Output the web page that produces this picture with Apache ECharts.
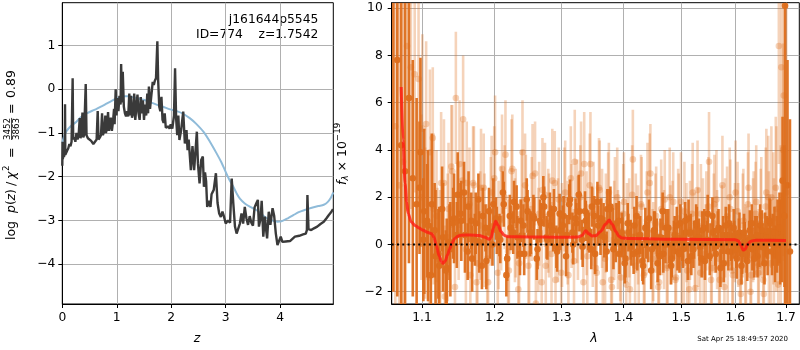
<!DOCTYPE html>
<html><head><meta charset="utf-8">
<script src="https://cdn.jsdelivr.net/npm/echarts@6/dist/echarts.min.js"></script>
<style>html,body{margin:0;padding:0;background:#fff}#c{width:800px;height:350px}</style>
</head><body><div id="c"></div>
<script>
// ---------- LEFT PANEL DATA: log p(z) ----------
const pzCurve = [[0.00,-1.75],[0.005,-1.20],[0.01,-1.60],[0.02,-1.40],[0.03,-1.55],[0.045,-1.45],[0.05,-0.34],[0.055,-1.50],[0.07,-1.52],[0.09,-1.40],[0.11,-1.35],[0.13,-1.25],[0.15,-1.30],[0.17,-1.20],[0.19,0.25],[0.20,-1.15],[0.22,-1.10],[0.24,-1.20],[0.26,-1.00],[0.28,-1.15],[0.30,-1.05],[0.32,-0.66],[0.335,-1.12],[0.35,-1.00],[0.37,-0.53],[0.385,-1.10],[0.40,-1.05],[0.43,0.12],[0.445,-1.05],[0.47,-1.12],[0.50,-1.15],[0.53,-1.18],[0.57,-1.25],[0.60,-1.28],[0.63,-1.15],[0.65,-0.50],[0.665,-1.15],[0.69,-1.10],[0.71,-1.05],[0.73,-0.55],[0.745,-1.05],[0.77,-0.95],[0.79,-0.60],[0.80,-1.00],[0.82,-0.90],[0.84,-0.52],[0.855,-0.95],[0.87,-0.85],[0.89,-0.65],[0.91,-0.95],[0.93,-0.75],[0.95,-0.45],[0.96,-0.80],[0.98,0.00],[0.995,-0.60],[1.01,-0.20],[1.03,-0.50],[1.05,-0.15],[1.07,-0.35],[1.08,0.58],[1.095,-0.30],[1.11,0.40],[1.12,0.43],[1.13,-0.40],[1.15,-0.55],[1.17,-0.62],[1.19,-0.50],[1.21,-0.62],[1.23,-0.10],[1.245,-0.60],[1.26,-0.15],[1.28,-0.65],[1.30,-0.55],[1.32,-0.10],[1.34,-0.70],[1.36,-0.40],[1.38,-0.12],[1.40,-0.55],[1.42,-0.70],[1.44,-0.18],[1.46,-0.55],[1.48,-0.25],[1.50,-0.70],[1.52,-0.35],[1.54,-0.60],[1.56,-0.10],[1.575,-0.55],[1.59,0.06],[1.61,-0.45],[1.63,-0.20],[1.66,0.17],[1.68,0.10],[1.70,0.20],[1.72,0.25],[1.745,1.10],[1.76,0.20],[1.78,-0.40],[1.80,-0.50],[1.82,-0.17],[1.84,-0.70],[1.86,-0.77],[1.88,-0.55],[1.90,-0.88],[1.93,-0.92],[1.95,-0.85],[1.97,-0.90],[1.99,-0.80],[2.02,-0.90],[2.05,-0.60],[2.07,0.48],[2.09,-0.68],[2.11,-1.05],[2.13,-0.60],[2.15,-1.16],[2.18,-0.95],[2.22,-0.51],[2.25,-1.24],[2.28,-0.93],[2.30,-1.39],[2.32,-1.15],[2.34,-1.15],[2.36,-1.85],[2.39,-1.30],[2.42,-1.85],[2.44,-1.50],[2.47,-0.97],[2.49,-1.70],[2.52,-2.15],[2.55,-1.62],[2.58,-1.54],[2.60,-2.23],[2.62,-1.90],[2.64,-2.10],[2.66,-2.69],[2.69,-2.55],[2.72,-2.69],[2.74,-2.40],[2.78,-2.30],[2.82,-1.92],[2.85,-2.60],[2.88,-2.84],[2.91,-2.92],[2.94,-2.80],[2.97,-2.92],[3.00,-3.07],[3.04,-3.00],[3.08,-3.05],[3.11,-2.04],[3.14,-2.62],[3.17,-3.14],[3.20,-3.30],[3.23,-3.28],[3.26,-3.07],[3.29,-2.84],[3.32,-3.07],[3.35,-2.69],[3.38,-2.95],[3.41,-3.10],[3.44,-2.90],[3.47,-3.05],[3.50,-3.12],[3.53,-2.70],[3.56,-2.61],[3.59,-2.53],[3.61,-3.14],[3.64,-2.95],[3.66,-2.55],[3.69,-3.37],[3.72,-2.91],[3.74,-3.20],[3.76,-3.41],[3.79,-2.80],[3.82,-3.10],[3.86,-2.72],[3.89,-2.90],[3.92,-3.30],[3.95,-3.56],[3.98,-3.54],[4.01,-3.37],[4.04,-3.49],[4.10,-3.48],[4.18,-3.47],[4.27,-3.37],[4.35,-3.35],[4.42,-3.32],[4.47,-3.30],[4.49,-3.22],[4.50,-2.42],[4.52,-3.20],[4.57,-3.22],[4.62,-3.18],[4.68,-3.14],[4.74,-3.08],[4.80,-3.03],[4.85,-2.95],[4.89,-2.88],[4.93,-2.82],[4.97,-2.74]];
const pzSmooth = [[0,-1.22],[0.04,-1.05],[0.08,-0.95],[0.15,-0.85],[0.26,-0.74],[0.35,-0.63],[0.45,-0.55],[0.55,-0.49],[0.63,-0.45],[0.72,-0.39],[0.81,-0.33],[0.9,-0.27],[1.0,-0.21],[1.08,-0.18],[1.15,-0.16],[1.22,-0.16],[1.3,-0.18],[1.4,-0.21],[1.49,-0.24],[1.6,-0.29],[1.73,-0.35],[1.85,-0.40],[1.98,-0.46],[2.1,-0.50],[2.22,-0.56],[2.34,-0.66],[2.45,-0.78],[2.59,-0.97],[2.71,-1.20],[2.83,-1.46],[2.92,-1.67],[2.985,-1.85],[3.06,-2.05],[3.14,-2.23],[3.20,-2.38],[3.26,-2.50],[3.35,-2.61],[3.45,-2.69],[3.56,-2.76],[3.64,-2.84],[3.72,-2.92],[3.83,-2.99],[3.95,-3.03],[4.02,-3.02],[4.14,-2.95],[4.24,-2.88],[4.34,-2.81],[4.45,-2.76],[4.58,-2.71],[4.70,-2.67],[4.80,-2.64],[4.87,-2.58],[4.93,-2.48],[4.975,-2.36]];
const zTicks = [0,1,2,3,4];
const logpTicks = [-4,-3,-2,-1,0,1];

// ---------- RIGHT PANEL DATA: spectrum ----------
const darkLam = [1.063,1.068,1.073,1.078,1.083,1.088,1.093,1.098,1.103,1.108,
1.113,1.118,1.123,1.128,1.133,1.138,1.143,1.148,1.153,1.158,
1.163,1.168,1.173,1.178,1.183,1.188,1.193,1.198,1.203,1.208,
1.213,1.218,1.223,1.228,1.233,1.238,1.243,1.248,1.253,1.258,
1.263,1.268,1.273,1.278,1.283,1.288,1.293,1.298,1.303,1.308,
1.313,1.318,1.323,1.328,1.333,1.338,1.343,1.348,1.353,1.358,
1.363,1.368,1.373,1.378,1.383,1.388,1.393,1.398,1.403,1.408,
1.413,1.418,1.423,1.428,1.433,1.438,1.443,1.448,1.453,1.458,
1.463,1.468,1.473,1.478,1.483,1.488,1.493,1.498,1.503,1.508,
1.513,1.518,1.523,1.528,1.533,1.538,1.543,1.548,1.553,1.558,
1.563,1.568,1.573,1.578,1.583,1.588,1.593,1.598,1.603,1.608,
1.613,1.618,1.623,1.628,1.633,1.638,1.643,1.648,1.653,1.658,
1.663,1.668,1.673,1.678,1.683,1.688,1.693,1.698,1.703,1.708];
const darkFlux = [12.0,7.8,4.2,3.1,6.2,2.8,1.7,3.9,1.4,0.8,
1.7,-0.5,-0.9,0.3,-1.0,-0.2,1.1,2.1,1.0,0.4,
1.6,-0.6,0.9,0.1,1.2,-0.7,0.5,1.7,0.6,0.2,
1.7,-0.6,0.7,1.8,0.3,1.0,-0.4,1.4,0.5,1.1,
-0.2,0.9,1.6,0.2,0.8,1.5,-0.3,0.6,1.2,0.4,
1.9,0.0,0.9,1.4,-0.1,1.0,0.5,1.6,-0.4,0.8,
1.1,0.3,1.5,1.6,-0.2,0.9,-0.4,0.3,-0.6,0.5,
-0.1,0.8,-0.3,0.4,-0.9,0.2,1.1,-0.2,0.6,-0.8,
0.3,-0.4,0.7,0.0,-0.6,0.4,-0.3,0.9,-0.2,0.5,
1.1,-0.5,0.2,0.8,-0.1,0.6,-0.7,1.3,0.1,0.5,
-0.4,0.7,0.0,-0.8,0.4,0.9,-0.3,0.2,-0.6,0.5,
-0.4,0.1,-0.7,0.6,-0.2,0.3,-0.5,0.8,0.0,0.4,
-0.3,0.9,0.2,-0.4,0.5,0.1,2.7,10.1,2.5,-0.3];
const darkErr = [14,10,9,8,7,5,4.5,4,3.5,3.2,
3.0,2.8,2.5,2.3,2.1,2.0,1.9,1.8,1.7,1.6,
1.5,1.4,1.3,1.3,1.2,1.2,1.1,1.1,1.0,1.0,
0.95,0.95,0.95,0.9,0.9,0.9,0.9,0.9,0.9,0.9,
0.85,0.85,0.85,0.85,0.85,0.85,0.85,0.85,0.85,0.85,
0.85,0.85,0.85,0.85,0.85,0.85,0.85,0.85,0.85,0.85,
0.85,0.85,0.85,0.85,0.85,0.85,0.85,0.85,0.8,0.8,
0.8,0.8,0.8,0.8,0.8,0.8,0.8,0.8,0.8,0.8,
0.8,0.8,0.8,0.8,0.8,0.8,0.8,0.8,0.8,0.8,
0.8,0.8,0.8,0.8,0.8,0.8,0.8,0.8,0.8,0.8,
0.8,0.8,0.8,0.8,0.8,0.8,0.8,0.8,0.85,0.85,
0.85,0.85,0.85,0.85,0.9,0.9,0.9,0.9,0.9,0.95,
1.0,1.0,1.1,1.2,1.4,1.8,2.7,13,5.3,5.6];
const dark2Lam = [1.0968,1.1018,1.1068,1.1118,1.1168,1.1218,1.1268,1.1318,1.1368,1.1418,
1.1468,1.1518,1.1568,1.1618,1.1668,1.1718,1.1768,1.1818,1.1868,1.1918,
1.1968,1.2018,1.2068,1.2118,1.2168,1.2218,1.2268,1.2318,1.2368,1.2418,
1.2468,1.2518,1.2568,1.2618,1.2668,1.2718,1.2768,1.2818,1.2868,1.2918,
1.2968,1.3018,1.3068,1.3118,1.3168,1.3218,1.3268,1.3318,1.3368,1.3418,
1.3468,1.3518,1.3568,1.3618,1.3668,1.3718,1.3768,1.3818,1.3868,1.3918,
1.3968,1.4018,1.4068,1.4118,1.4168,1.4218,1.4268,1.4318,1.4368,1.4418,
1.4468,1.4518,1.4568,1.4618,1.4668,1.4718,1.4768,1.4818,1.4868,1.4918,
1.4968,1.5018,1.5068,1.5118,1.5168,1.5218,1.5268,1.5318,1.5368,1.5418,
1.5468,1.5518,1.5568,1.5618,1.5668,1.5718,1.5768,1.5818,1.5868,1.5918,
1.5968,1.6018,1.6068,1.6118,1.6168,1.6218,1.6268,1.6318,1.6368,1.6418,
1.6468,1.6518,1.6568,1.6618,1.6668,1.6718,1.6768,1.6818,1.6868,1.6918,
1.6968];
const dark2Flux = [2.4,0.2,1.0,-1.3,0.6,-0.4,1.5,-1.1,0.1,0.9,
0.4,1.3,2.2,-0.3,1.0,0.2,1.9,-0.9,0.7,1.4,
0.0,1.1,0.4,2.2,-1.3,1.2,0.5,1.6,-0.4,0.8,
1.9,0.4,1.2,-0.6,1.0,2.0,0.3,1.3,0.6,-0.1,
1.3,0.8,-0.5,1.7,0.5,1.1,2.1,0.2,1.4,0.6,
-0.2,1.2,1.8,0.4,0.9,-0.3,1.5,0.7,0.1,1.0,
0.5,-0.8,0.9,0.2,-0.4,1.2,0.3,-0.7,0.7,0.1,
-1.1,0.6,0.3,-0.5,1.4,0.0,0.7,-0.9,0.2,0.8,
-0.4,0.1,1.0,-0.7,0.5,-0.2,0.9,0.3,-0.6,0.7,
0.2,-0.5,1.2,-0.1,0.6,-1.0,0.4,0.8,-0.3,0.1,
0.7,-0.2,0.3,-0.9,0.5,-0.4,0.2,0.9,-0.6,0.4,
-0.1,0.6,-0.8,0.3,1.0,-0.3,0.5,0.0,0.7,0.3,
1.2];
const dark2Err = [2.8,2.6,2.4,2.2,2.0,1.9,1.8,1.7,1.6,1.5,
1.4,1.3,1.3,1.2,1.2,1.1,1.1,1.0,1.0,1.0,
0.9,0.9,0.9,0.9,0.9,0.9,0.9,0.9,0.9,0.9,
0.9,0.9,0.9,0.9,0.9,0.9,0.9,0.9,0.9,0.9,
0.85,0.85,0.85,0.85,0.85,0.85,0.85,0.85,0.85,0.85,
0.85,0.85,0.85,0.85,0.85,0.85,0.85,0.85,0.85,0.85,
0.85,0.85,0.85,0.85,0.85,0.85,0.85,0.85,0.85,0.85,
0.8,0.8,0.8,0.8,0.8,0.8,0.8,0.8,0.8,0.8,
0.8,0.8,0.8,0.8,0.8,0.8,0.8,0.8,0.8,0.8,
0.8,0.8,0.8,0.8,0.8,0.8,0.8,0.8,0.8,0.8,
0.8,0.8,0.8,0.8,0.8,0.8,0.8,0.8,0.8,0.8,
0.85,0.85,0.9,0.9,0.95,1.0,1.1,1.2,1.5,1.9,
3.0];
const lightLam = [1.0655,1.0705,1.0755,1.0805,1.0855,1.0905,1.0955,1.1005,1.1055,1.1105,
1.1155,1.1205,1.1255,1.1305,1.1355,1.1405,1.1455,1.1505,1.1555,1.1605,
1.1655,1.1705,1.1755,1.1805,1.1855,1.1905,1.1955,1.2005,1.2055,1.2105,
1.2155,1.2205,1.2255,1.2305,1.2355,1.2405,1.2455,1.2505,1.2555,1.2605,
1.2655,1.2705,1.2755,1.2805,1.2855,1.2905,1.2955,1.3005,1.3055,1.3105,
1.3155,1.3205,1.3255,1.3305,1.3355,1.3405,1.3455,1.3505,1.3555,1.3605,
1.3655,1.3705,1.3755,1.3805,1.3855,1.3905,1.3955,1.4005,1.4055,1.4105,
1.4155,1.4205,1.4255,1.4305,1.4355,1.4405,1.4455,1.4505,1.4555,1.4605,
1.4655,1.4705,1.4755,1.4805,1.4855,1.4905,1.4955,1.5005,1.5055,1.5105,
1.5155,1.5205,1.5255,1.5305,1.5355,1.5405,1.5455,1.5505,1.5555,1.5605,
1.5655,1.5705,1.5755,1.5805,1.5855,1.5905,1.5955,1.6005,1.6055,1.6105,
1.6155,1.6205,1.6255,1.6305,1.6355,1.6405,1.6455,1.6505,1.6555,1.6605,
1.6655,1.6705,1.6755,1.6805,1.6855,1.6905,1.6955,1.7005];
const lightFlux = [5.0,2.5,3.5,8.4,7.5,7.2,7.0,4.9,5.1,3.9,
1.5,-0.6,2.6,-2.2,1.5,3.1,6.2,3.4,5.3,2.6,
-1.3,2.5,-0.8,2.4,0.6,-1.6,2.2,3.9,0.4,3.2,
3.8,-1.1,3.2,0.9,-0.8,3.9,1.6,-0.4,2.9,-2.5,
1.3,2.3,-0.9,0.8,2.7,-1.5,1.9,0.4,2.2,-1.3,
1.2,3.5,0.7,3.0,3.4,-0.5,3.4,1.3,-1.2,2.3,
-1.6,0.9,2.2,-1.8,1.6,0.2,-1.4,1.8,0.5,-1.9,
3.6,0.9,-0.7,1.6,-1.2,2.2,3.0,-0.3,1.2,-1.6,
0.8,1.9,-0.9,0.4,1.8,-1.4,0.9,-0.5,1.4,-1.1,
0.6,2.2,-1.85,0.3,1.3,-0.7,1.0,3.5,-1.0,1.7,
0.2,-1.5,2.5,0.7,-0.8,1.5,-1.3,2.2,0.4,-2.1,
1.0,-0.6,2.4,-1.3,0.8,1.8,-0.9,1.2,-2.1,2.2,
0.3,2.0,-0.4,1.5,8.4,7.5,6.3,2.2];
const lightErr = [10,9,8,7,6,5,4.5,4,3.5,3.5,
3.2,3,3,3,2.8,2.8,2.8,2.7,2.7,2.6,
2.6,2.5,2.5,2.5,2.4,2.4,2.4,2.4,2.3,2.3,
2.3,2.3,2.3,2.3,2.2,2.2,2.2,2.2,2.2,2.2,
2.2,2.2,2.2,2.2,2.2,2.2,2.2,2.2,2.2,2.2,
2.2,2.2,2.2,2.2,2.2,2.2,2.2,2.2,2.2,2.1,
2.1,2.1,2.1,2.1,2.1,2.1,2.1,2.1,2.1,2.1,
2.1,2.1,2.1,2.1,2.1,2.1,2.1,2.1,2.1,2.1,
2.1,2.1,2.1,2.1,2.1,2.1,2.1,2.1,2.1,2.1,
2.1,2.1,2.1,2.1,2.1,2.1,2.1,2.1,2.1,2.1,
2.1,2.1,2.1,2.1,2.1,2.1,2.2,2.2,2.2,2.2,
2.2,2.2,2.3,2.3,2.3,2.4,2.4,2.5,2.6,2.7,
2.8,3,3.2,3.5,5,6,7,8];
const light2Lam = [1.0993,1.1043,1.1093,1.1143,1.1193,1.1243,1.1293,1.1343,1.1393,1.1443,
1.1493,1.1543,1.1593,1.1643,1.1693,1.1743,1.1793,1.1843,1.1893,1.1943,
1.1993,1.2043,1.2093,1.2143,1.2193,1.2243,1.2293,1.2343,1.2393,1.2443,
1.2493,1.2543,1.2593,1.2643,1.2693,1.2743,1.2793,1.2843,1.2893,1.2943,
1.2993,1.3043,1.3093,1.3143,1.3193,1.3243,1.3293,1.3343,1.3393,1.3443,
1.3493,1.3543,1.3593,1.3643,1.3693,1.3743,1.3793,1.3843,1.3893,1.3943,
1.3993,1.4043,1.4093,1.4143,1.4193,1.4243,1.4293,1.4343,1.4393,1.4443,
1.4493,1.4543,1.4593,1.4643,1.4693,1.4743,1.4793,1.4843,1.4893,1.4943,
1.4993,1.5043,1.5093,1.5143,1.5193,1.5243,1.5293,1.5343,1.5393,1.5443,
1.5493,1.5543,1.5593,1.5643,1.5693,1.5743,1.5793,1.5843,1.5893,1.5943,
1.5993,1.6043,1.6093,1.6143,1.6193,1.6243,1.6293,1.6343,1.6393,1.6443,
1.6493,1.6543,1.6593,1.6643,1.6693,1.6743,1.6793,1.6843,1.6893,1.6943];
const light2Flux = [2.0,0.9,-1.4,4.5,1.2,-0.5,2.6,0.3,3.3,-1.8,
1.0,2.7,-0.2,1.7,2.6,-1.6,0.8,2.4,-0.6,1.4,
2.8,-1.2,1.1,2.0,-0.3,3.1,0.6,-1.9,1.8,2.5,
-0.9,1.5,3.0,0.2,-1.6,2.1,1.0,-0.4,2.6,0.6,
-1.2,1.9,0.5,2.8,-0.7,1.4,2.0,-1.6,0.9,2.5,
0.3,-1.0,2.4,1.1,-0.6,1.8,-1.5,0.6,2.0,-0.3,
1.3,-1.7,0.7,2.1,-0.9,0.4,1.7,-1.3,1.0,2.6,
-0.6,0.9,-1.8,1.5,0.2,-1.0,2.0,0.6,-1.5,1.1,
1.8,-0.8,0.5,-1.9,1.3,0.1,2.3,-1.2,0.7,-0.4,
1.6,-1.5,0.9,1.9,-0.6,0.4,-1.8,1.2,2.0,-1.1,
0.5,1.4,-1.6,0.8,-0.5,1.7,-2.0,0.6,1.3,-1.2,
0.9,-1.5,1.6,2.0,-0.8,1.1,2.4,-1.7,0.6,4.0];
const light2Err = [3.5,3.2,3.0,3.0,2.8,2.8,2.7,2.7,2.6,2.6,
2.5,2.5,2.4,2.4,2.4,2.3,2.3,2.3,2.3,2.3,
2.2,2.2,2.2,2.2,2.2,2.2,2.2,2.2,2.2,2.2,
2.2,2.2,2.2,2.2,2.2,2.2,2.2,2.2,2.2,2.2,
2.2,2.2,2.2,2.2,2.2,2.2,2.2,2.2,2.2,2.2,
2.1,2.1,2.1,2.1,2.1,2.1,2.1,2.1,2.1,2.1,
2.1,2.1,2.1,2.1,2.1,2.1,2.1,2.1,2.1,2.1,
2.1,2.1,2.1,2.1,2.1,2.1,2.1,2.1,2.1,2.1,
2.1,2.1,2.1,2.1,2.1,2.1,2.1,2.1,2.1,2.1,
2.1,2.1,2.1,2.1,2.1,2.1,2.1,2.1,2.1,2.1,
2.1,2.1,2.2,2.2,2.2,2.2,2.2,2.2,2.2,2.2,
2.3,2.4,2.5,2.6,2.7,2.8,3.0,3.2,3.6,4.5];
const modelLam = [1.073,1.0755,1.078,1.080,1.082,1.086,1.091,1.096,1.1017,1.107,1.113,1.116,1.119,1.123,1.126,1.128,1.131,1.134,1.137,1.140,1.144,1.148,1.153,1.165,1.178,1.186,1.192,1.195,1.198,1.2013,1.205,1.209,1.214,1.22,1.25,1.30,1.325,1.332,1.338,1.343,1.348,1.354,1.362,1.370,1.376,1.381,1.387,1.392,1.397,1.41,1.50,1.60,1.606,1.611,1.615,1.619,1.624,1.630,1.64,1.70];
const modelFlux = [6.66,4.41,2.58,1.8,1.31,0.95,0.8,0.7,0.6,0.52,0.45,0.3,-0.04,-0.5,-0.73,-0.8,-0.7,-0.45,-0.2,0.05,0.25,0.35,0.39,0.40,0.38,0.30,0.22,0.3,0.7,0.98,0.8,0.55,0.38,0.33,0.32,0.30,0.31,0.38,0.58,0.45,0.36,0.37,0.55,0.85,1.03,0.85,0.55,0.35,0.27,0.25,0.22,0.20,0.15,-0.05,-0.24,-0.2,0.02,0.14,0.18,0.17];
const lamTicks = [1.1,1.2,1.3,1.4,1.5,1.6,1.7];
const fluxTicks = [-2,0,2,4,6,8,10];
const lamRange = [1.0609, 1.7272];

// ---------- BUILD ----------
const FONT = '"DejaVu Sans", sans-serif';
const L = Math.log10;
const minus = v => String(v).replace('-', '\u2212');
const ORANGE = 'rgb(221,110,28)';

function errRender(opacity, width) {
  return function (params, api) {
    const x = api.value(0), y = api.value(1), e = api.value(2);
    const p = api.coord([x, y]);
    const hi = api.coord([x, y + e]);
    const lo = api.coord([x, y - e]);
    const cs = params.coordSys;
    const top = Math.max(cs.y, hi[1]);
    const bot = Math.min(cs.y + cs.height, lo[1]);
    const children = [];
    if (bot > top) children.push({type: 'line', shape: {x1: p[0], y1: top, x2: p[0], y2: bot},
      style: {stroke: ORANGE, lineWidth: width, opacity: opacity}});
    if (p[1] >= cs.y - 3 && p[1] <= cs.y + cs.height + 3)
      children.push({type: 'circle', shape: {cx: p[0], cy: p[1], r: 3.3}, style: {fill: ORANGE, opacity: opacity}});
    return {type: 'group', children: children};
  };
}
function errSeries(lam, flux, err, opacity, width, z) {
  return {type: 'custom', xAxisIndex: 1, yAxisIndex: 1, clip: true, z: z, silent: true,
    data: lam.map((l, i) => [L(l), flux[i], err[i]]), encode: {x: 0, y: 1},
    renderItem: errRender(opacity, width)};
}

const cv = document.createElement('canvas').getContext('2d');
function tw(t, s, it) { cv.font = (it ? 'italic ' : '') + s + 'px "DejaVu Sans"'; return cv.measureText(t).width; }
function txt(t, s, it, x, y, align) {
  return {type: 'text', x: x, y: y, style: {text: t, font: (it ? 'italic ' : '') + s + 'px ' + FONT, fill: '#000', align: align || 'left', verticalAlign: 'middle'}};
}
function rotLabel(x, y, pieces) {
  const ch = [];
  pieces.forEach(p => {
    if (p.frac) {
      const w = Math.max(tw(p.frac[0], p.s), tw(p.frac[1], p.s));
      const c = p.off + w / 2;
      ch.push(txt(p.frac[0], p.s, false, c, -4.6, 'center'));
      ch.push(txt(p.frac[1], p.s, false, c, 4.4, 'center'));
      ch.push({type: 'line', shape: {x1: p.off, y1: -0.4, x2: p.off + w, y2: -0.4}, style: {stroke: '#000', lineWidth: 0.8}});
    } else {
      ch.push(txt(p.t, p.s, p.i, p.off, p.dy || 0));
    }
  });
  return {type: 'group', x: x, y: y, rotation: Math.PI / 2, children: ch};
}
function seqPieces(pieces) { let o = 0; pieces.forEach(p => { p.off = o; o += tw(p.t, p.s, p.i); }); return pieces; }

const axisCommon = {
  axisLine: {show: true, onZero: false, lineStyle: {color: '#000', width: 1}},
  splitLine: {show: true, lineStyle: {color: '#b0b0b0', width: 1}},
};
function tick(vals) { return {show: true, inside: false, length: 4, customValues: vals, lineStyle: {color: '#000', width: 1}}; }
function lab(extra) { return Object.assign({color: '#000', fontSize: 12.3, fontFamily: FONT}, extra); }

const chart = echarts.init(document.getElementById('c'), null, {renderer: 'canvas'});
const option = {
  animation: false,
  backgroundColor: '#fff',
  grid: [
    {left: 62.3, top: 2.7, width: 271, height: 301.3, show: true, borderColor: '#000', borderWidth: 1, backgroundColor: 'transparent', outerBoundsMode: 'none'},
    {left: 391.7, top: 2.7, width: 407.6, height: 301.3, show: true, borderColor: '#000', borderWidth: 1, backgroundColor: 'transparent', outerBoundsMode: 'none'}
  ],
  xAxis: [
    Object.assign({type: 'value', gridIndex: 0, min: 0, max: 4.975,
      axisLabel: lab({margin: 8, customValues: zTicks, formatter: v => minus(v)}), axisTick: tick(zTicks)}, axisCommon),
    Object.assign({type: 'value', gridIndex: 1, min: L(lamRange[0]), max: L(lamRange[1]),
      axisLabel: lab({margin: 8, customValues: lamTicks.map(L), formatter: v => Math.pow(10, v).toFixed(1)}),
      axisTick: tick(lamTicks.map(L))}, axisCommon)
  ],
  yAxis: [
    Object.assign({type: 'value', gridIndex: 0, min: -4.91, max: 1.98,
      axisLabel: lab({margin: 7, customValues: logpTicks, formatter: v => minus(v)}), axisTick: tick(logpTicks)}, axisCommon),
    Object.assign({type: 'value', gridIndex: 1, min: -2.52, max: 10.23,
      axisLabel: lab({margin: 9, customValues: fluxTicks, formatter: v => minus(v)}), axisTick: tick(fluxTicks)}, axisCommon)
  ],
  series: [
    {type: 'line', xAxisIndex: 0, yAxisIndex: 0, data: pzSmooth, showSymbol: false, symbol: 'none', smooth: 0.3,
      lineStyle: {color: '#8fbbd9', width: 2}, z: 2, silent: true},
    {type: 'line', xAxisIndex: 0, yAxisIndex: 0, data: pzCurve, showSymbol: false, symbol: 'none',
      lineStyle: {color: '#3a3a3a', width: 2.4}, z: 3, silent: true},
    errSeries(lightLam, lightFlux, lightErr, 0.3, 2.6, 2),
    errSeries(light2Lam, light2Flux, light2Err, 0.3, 2.6, 2),
    errSeries(darkLam, darkFlux, darkErr, 0.95, 2.6, 3),
    errSeries(dark2Lam, dark2Flux, dark2Err, 0.95, 2.6, 3),
    {type: 'line', xAxisIndex: 1, yAxisIndex: 1, data: modelLam.map((l, i) => [L(l), modelFlux[i]]),
      showSymbol: false, symbol: 'none', smooth: 0.3, smoothMonotone: 'x',
      lineStyle: {color: 'rgba(255,28,20,0.8)', width: 3}, z: 4, silent: true},
    {type: 'line', xAxisIndex: 1, yAxisIndex: 1, data: [[L(lamRange[0]), 0], [L(lamRange[1]), 0]],
      showSymbol: false, symbol: 'none', lineStyle: {color: '#000', width: 2, type: [2, 3.3]}, z: 5, silent: true}
  ],
  graphic: [
    txt('j161644p5545', 12.3, false, 318.3, 20, 'right'),
    txt('ID=774    z=1.7542', 12.3, false, 318.3, 34.5, 'right'),
    txt('z', 12.5, true, 197, 339, 'center'),
    txt('\u03bb', 12.5, true, 594, 339, 'center'),
    txt('Sat Apr 25 18:49:57 2020', 7, false, 788, 339.5, 'right'),
    rotLabel(12, 240, [
      {t: 'log', s: 12.5, off: 0},
      {t: 'p', s: 12.5, i: true, off: 27},
      {t: '(', s: 12.5, off: 35},
      {t: 'z', s: 12.5, i: true, off: 39.5},
      {t: ')', s: 12.5, off: 46},
      {t: '/', s: 12.5, off: 54},
      {t: '\u03c7', s: 12.5, i: true, off: 61},
      {t: '2', s: 8.7, off: 69, dy: -5},
      {t: '=', s: 12.5, off: 82},
      {frac: ['3452', '3863'], s: 8.7, off: 100},
      {t: '=', s: 12.5, off: 126},
      {t: '0.89', s: 12.5, off: 142}
    ]),
    rotLabel(343, 185, seqPieces([
      {t: 'f', s: 12.5, i: true},
      {t: '\u03bb', s: 8.7, i: true, dy: 3},
      {t: ' \u00d7 10', s: 12.5},
      {t: '\u221219', s: 8.7, dy: -5}
    ]))
  ]
};
chart.setOption(option);
</script>
</body></html>
